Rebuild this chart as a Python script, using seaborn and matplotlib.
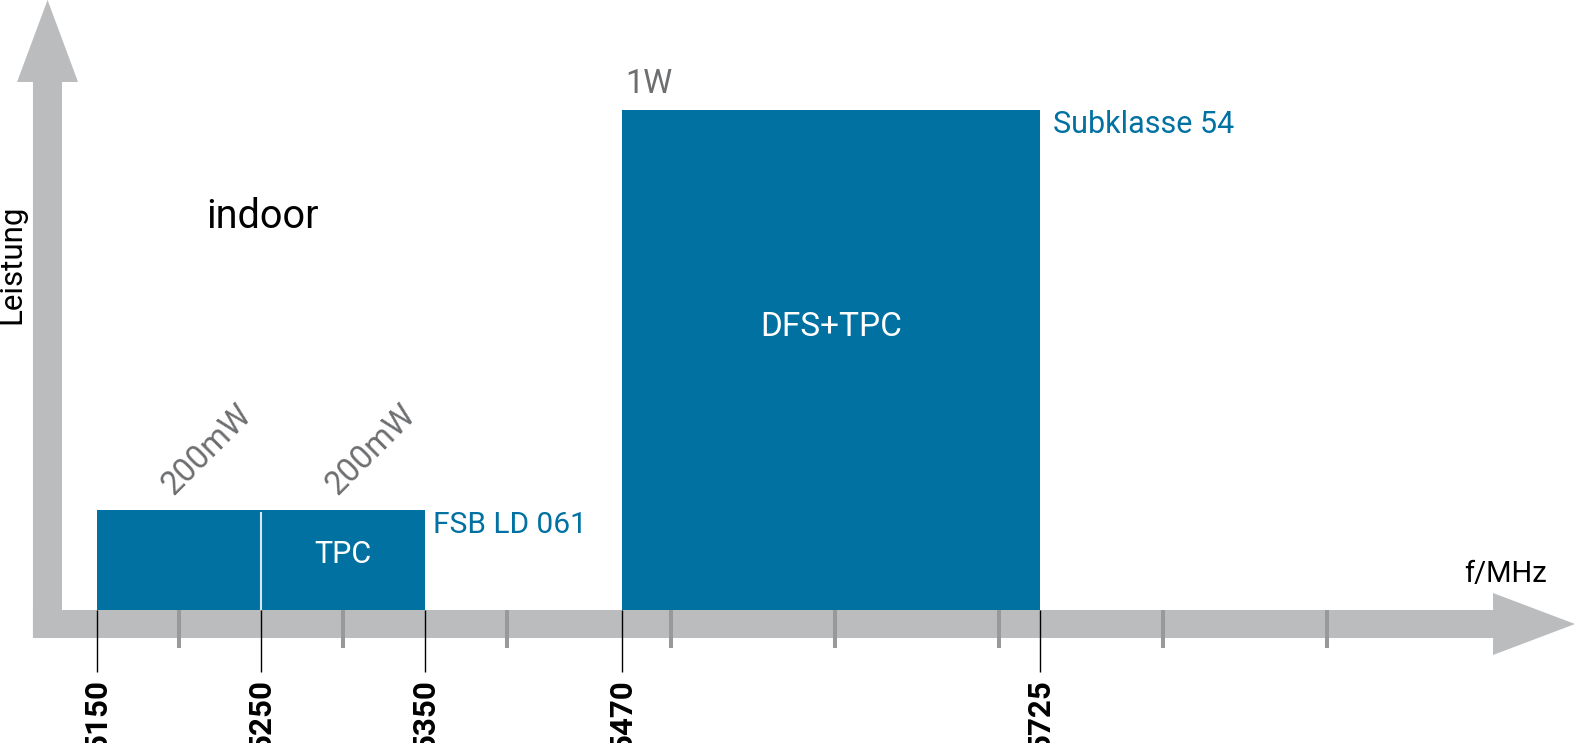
import matplotlib
matplotlib.use("Agg")
import matplotlib.pyplot as plt
import seaborn as sns
from matplotlib.patches import Polygon

# --- data ---
band_start = [5150, 5250, 5470]          # MHz
band_end = [5250, 5350, 5725]            # MHz
band_power = [200, 200, 1000]            # mW
band_text = ["", "TPC", "DFS+TPC"]
power_text = ["200mW", "200mW", "1W"]
edge_labels = [5150, 5250, 5350, 5470, 5725]
minor_ticks = [5200, 5300, 5400, 5500, 5600, 5700, 5800, 5900]

BLUE = "#0071a1"
GREY = "#bbbcbe"
TICK_GREY = "#98999b"
TEXT_GREY = "#6d6e70"

sns.set_theme(style="white")
plt.rcParams["font.family"] = ["Roboto", "DejaVu Sans"]

fig = plt.figure(figsize=(15.75, 7.43), dpi=100)
ax = fig.add_axes([0, 0, 1, 1])
ax.set_xlim(5090.6, 6051.2)
ax.set_ylim(-266, 1220)
ax.axis("off")

# gray axis arrows
h_arrow = Polygon([(5110.7, 0), (6001.2, 0), (6001.2, 34), (6051.2, -28),
                   (6001.2, -90), (6001.2, -56), (5110.7, -56)],
                  closed=True, facecolor=GREY, edgecolor="none", zorder=1)
v_arrow = Polygon([(5110.7, -56), (5110.7, 1056), (5101.0, 1056), (5119.6, 1220),
                   (5138.2, 1056), (5128.4, 1056), (5128.4, -56)],
                  closed=True, facecolor=GREY, edgecolor="none", zorder=1)
ax.add_patch(h_arrow)
ax.add_patch(v_arrow)

# minor gray ticks
ax.vlines(minor_ticks, -76, 0, color=TICK_GREY, lw=2.9, zorder=2)

# bands
widths = [e - s for s, e in zip(band_start, band_end)]
ax.bar(band_start, band_power, width=widths, align="edge", color=BLUE,
       edgecolor="none", zorder=3)
ax.vlines(5250, 0, 196, color="#dce6ee", lw=1.5, zorder=4)

# black edge ticks + labels
ax.vlines(edge_labels, -123, 0, color="black", lw=1.0, zorder=4)
for f in edge_labels:
    ax.text(f, -138, str(f), rotation=90, ha="center", va="top",
            fontsize=22.5, fontweight="bold", color="black")

# texts in bands
for s, e, p, t in zip(band_start, band_end, band_power, band_text):
    if t:
        ymid = 111 if p < 500 else 567
        ax.text((s + e) / 2, ymid, t, ha="center", va="center",
                fontsize=22 if p < 500 else 24, color="white", zorder=5)

# power labels
for s, e, t in zip(band_start[:2], band_end[:2], power_text[:2]):
    ax.text((s + e) / 2 + 17, 320, t, rotation=45, ha="center", va="center",
            fontsize=23.5, color=TEXT_GREY)
ax.text(band_start[2] + 2, 1034, power_text[2], ha="left", va="baseline",
        fontsize=23.5, color=TEXT_GREY)

ax.text(5354.7, 153.4, "FSB LD 061", ha="left", va="baseline", fontsize=21.5, color=BLUE)
ax.text(5732.9, 954.6, "Subklasse 54", ha="left", va="baseline", fontsize=22, color=BLUE)
ax.text(5251, 788, "indoor", ha="center", va="center", fontsize=28.5, color="black")
ax.text(6009, 56, "f/MHz", ha="center", va="baseline", fontsize=21, color="black")
ax.text(5097.6, 692, "Leistung", rotation=90, ha="center", va="center",
        fontsize=22.5, color="black")

fig.savefig("out.png", dpi=100)
